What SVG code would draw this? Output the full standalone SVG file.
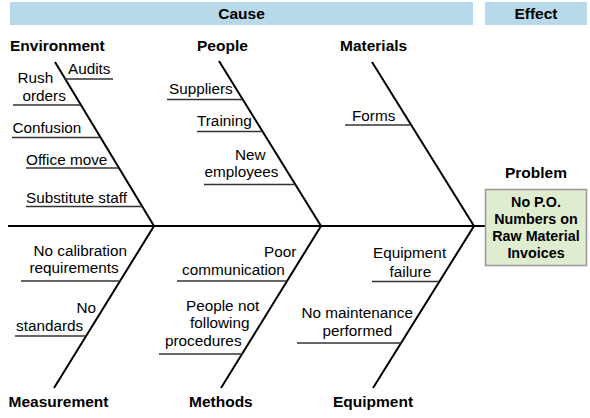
<svg xmlns="http://www.w3.org/2000/svg" width="590" height="418" viewBox="0 0 590 418">
<style>
text{font-family:"Liberation Sans",Arial,sans-serif;font-size:15.3px;fill:#000}
.b{font-weight:bold;font-size:15.5px}
.bx{font-weight:bold;font-size:14.3px}
.bone{stroke:#000;stroke-width:2;fill:none}
.sub{stroke:#333;stroke-width:1.5;fill:none}
.hdr{fill:#b8d9e9}
</style>
<rect width="590" height="418" fill="#fff"/>
<g id="header">
<rect class="hdr" x="10" y="2" width="463" height="23"/>
<rect class="hdr" x="485" y="2" width="102" height="23"/>
<text class="b" x="241.5" y="19" text-anchor="middle">Cause</text>
<text class="b" x="536" y="19" text-anchor="middle">Effect</text>
</g>
<g id="connectors">
<line class="bone" x1="8" y1="226" x2="485" y2="226" stroke-width="2.5"/>
<polyline class="bone" points="55,62 154,226 54,388"/>
<polyline class="bone" points="219,61 321,226 221,388"/>
<polyline class="bone" points="372,62 474,226 373,388"/>
<line class="sub" x1="65" y1="79" x2="113" y2="79"/>
<line class="sub" x1="13" y1="105" x2="80" y2="105"/>
<line class="sub" x1="12" y1="137.5" x2="100" y2="137.5"/>
<line class="sub" x1="26" y1="168" x2="118" y2="168"/>
<line class="sub" x1="26" y1="206.5" x2="142" y2="206.5"/>
<line class="sub" x1="167" y1="99.5" x2="243" y2="99.5"/>
<line class="sub" x1="197" y1="131.5" x2="262" y2="131.5"/>
<line class="sub" x1="204" y1="184.5" x2="295" y2="184.5"/>
<line class="sub" x1="345" y1="125" x2="410" y2="125"/>
<line class="sub" x1="21" y1="281" x2="121" y2="281"/>
<line class="sub" x1="15" y1="336" x2="87" y2="336"/>
<line class="sub" x1="177" y1="281" x2="287" y2="281"/>
<line class="sub" x1="159" y1="354" x2="243" y2="354"/>
<line class="sub" x1="372" y1="281.5" x2="439" y2="281.5"/>
<line class="sub" x1="297" y1="343" x2="401" y2="343"/>
</g>
<g id="environment">
<text class="b" x="10" y="51">Environment</text>
<text x="68" y="74">Audits</text>
<text x="17.5" y="83">Rush</text>
<text x="22.5" y="101">orders</text>
<text x="12.5" y="133">Confusion</text>
<text x="26" y="165">Office move</text>
<text x="26" y="203">Substitute staff</text>
</g>
<g id="people">
<text class="b" x="197" y="51">People</text>
<text x="169" y="94">Suppliers</text>
<text x="197" y="126">Training</text>
<text x="235" y="160">New</text>
<text x="204.5" y="177">employees</text>
</g>
<g id="materials">
<text class="b" x="340" y="51">Materials</text>
<text x="352" y="121">Forms</text>
</g>
<g id="measurement">
<text class="b" x="8.5" y="407">Measurement</text>
<text x="33.5" y="256">No calibration</text>
<text x="29.5" y="273">requirements</text>
<text x="76.5" y="313">No</text>
<text x="16" y="331">standards</text>
</g>
<g id="methods">
<text class="b" x="189" y="407">Methods</text>
<text x="264" y="257">Poor</text>
<text x="182" y="275">communication</text>
<text x="186" y="311">People not</text>
<text x="190" y="328">following</text>
<text x="165" y="345.5">procedures</text>
</g>
<g id="equipment">
<text class="b" x="333" y="407">Equipment</text>
<text x="373" y="258">Equipment</text>
<text x="389.5" y="276.5">failure</text>
<text x="301.5" y="318">No maintenance</text>
<text x="322.5" y="336">performed</text>
</g>
<g id="problem">
<text class="b" x="536" y="178" text-anchor="middle">Problem</text>
<rect x="485.5" y="189.5" width="101" height="76" fill="#dfeccf" stroke="#999" stroke-width="1.5"/>
<text class="bx" x="536" y="207" text-anchor="middle">No P.O.</text>
<text class="bx" x="536" y="224" text-anchor="middle">Numbers on</text>
<text class="bx" x="536" y="241" text-anchor="middle">Raw Material</text>
<text class="bx" x="536" y="258" text-anchor="middle">Invoices</text>
</g>
</svg>
